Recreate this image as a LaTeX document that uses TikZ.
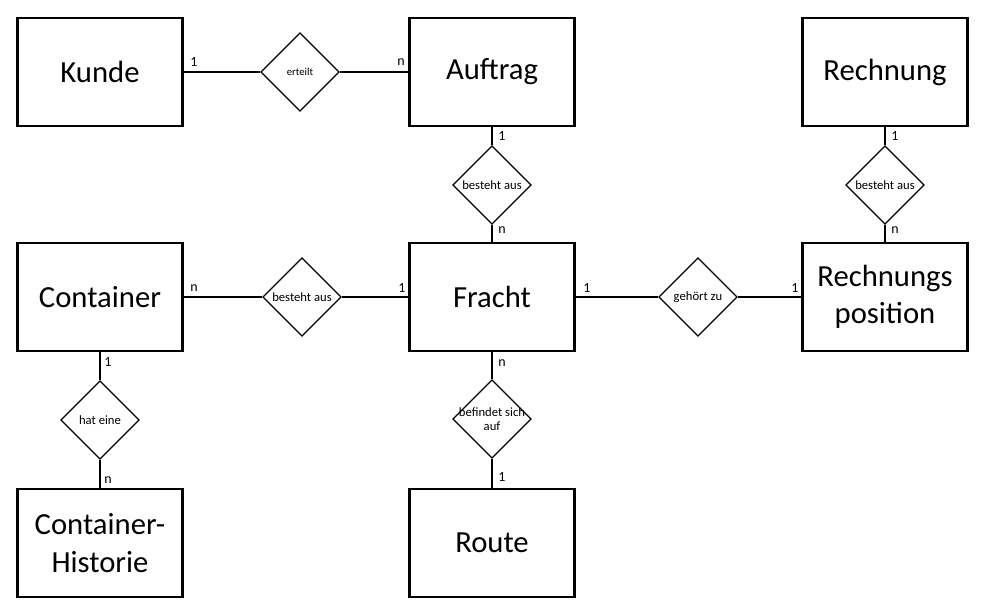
\documentclass[tikz,border=0pt]{standalone}
\usepackage{fontspec}
\setmainfont{Carlito}
\usetikzlibrary{shapes.geometric}
\begin{document}
\begin{tikzpicture}[x=0.75pt,y=-0.75pt,
 entity/.style={draw=black,line width=2.2pt,minimum width=124pt,minimum height=81pt,inner sep=0pt,align=center,font=\fontsize{23}{28}\selectfont},
 rel/.style={draw=black,line width=0.9pt,shape=diamond,minimum width=59pt,minimum height=59pt,inner sep=0pt},
 reltext/.style={font=\fontsize{9.5}{11}\selectfont,align=center,inner sep=0pt},
 card/.style={font=\fontsize{10.5}{12}\selectfont,inner sep=0pt},
 conn/.style={draw=black,line width=0.8pt}]
\useasboundingbox (0,0) rectangle (982,606);
% entities
\node[entity] (kunde) at (100,72) {Kunde};
\node[entity] (auftrag) at (492,72) {Auftrag};
\node[entity] (rechnung) at (885,72) {Rechnung};
\node[entity] (container) at (100,297) {Container};
\node[entity] (fracht) at (492,297) {Fracht};
\node[entity] (rpos) at (885,297) {Rechnungs\\position};
\node[entity] (chist) at (100,543) {Container-\\Historie};
\node[entity] (route) at (492,543) {Route};
% relationships
\node[rel] (r1) at (300,72) {};
\node[reltext,font=\fontsize{8}{10}\selectfont] (t1) at (r1) {erteilt};
\node[rel] (r2) at (492,185) {};
\node[reltext] (t2) at (r2) {besteht aus};
\node[rel] (r3) at (885,185) {};
\node[reltext] (t3) at (r3) {besteht aus};
\node[rel] (r4) at (302,297) {};
\node[reltext] (t4) at (r4) {besteht aus};
\node[rel] (r5) at (698,297) {};
\node[reltext] (t5) at (r5) {gehört zu};
\node[rel] (r6) at (100,420) {};
\node[reltext] (t6) at (r6) {hat eine};
\node[rel] (r7) at (492,419) {};
\node[reltext] (t7) at (r7) {befindet sich\\auf};
% connectors
\draw[conn] (kunde.east) -- (r1.west);
\draw[conn] (r1.east) -- (auftrag.west);
\draw[conn] (auftrag.south) -- (r2.north);
\draw[conn] (r2.south) -- (fracht.north);
\draw[conn] (rechnung.south) -- (r3.north);
\draw[conn] (r3.south) -- (rpos.north);
\draw[conn] (container.east) -- (r4.west);
\draw[conn] (r4.east) -- (fracht.west);
\draw[conn] (fracht.east) -- (r5.west);
\draw[conn] (r5.east) -- (rpos.west);
\draw[conn] (container.south) -- (r6.north);
\draw[conn] (r6.south) -- (chist.north);
\draw[conn] (fracht.south) -- (r7.north);
\draw[conn] (r7.south) -- (route.north);
% cardinalities
\node[card] (c1) at (194,62) {1};
\node[card] (c2) at (401,62) {n};
\node[card] (c3) at (502,136) {1};
\node[card] (c4) at (502,230) {n};
\node[card] (c5) at (895,136) {1};
\node[card] (c6) at (895,230) {n};
\node[card] (c7) at (194,288) {n};
\node[card] (c8) at (402,288) {1};
\node[card] (c9) at (587,288) {1};
\node[card] (c10) at (795,288) {1};
\node[card] (c11) at (108,362) {1};
\node[card] (c12) at (108,480) {n};
\node[card] (c13) at (502,363) {n};
\node[card] (c14) at (502,477) {1};
\end{tikzpicture}
\end{document}
